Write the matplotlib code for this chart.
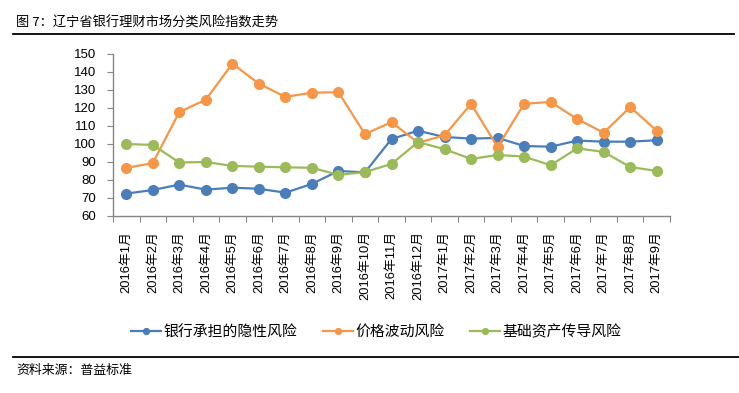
import numpy as np
import matplotlib
matplotlib.use('Agg')
import matplotlib.pyplot as plt
from matplotlib.lines import Line2D

plt.rcParams['font.family'] = ['Liberation Sans', 'Noto Sans CJK SC', 'DejaVu Sans']

months = ['2016年1月', '2016年2月', '2016年3月', '2016年4月', '2016年5月', '2016年6月',
          '2016年7月', '2016年8月', '2016年9月', '2016年10月', '2016年11月', '2016年12月',
          '2017年1月', '2017年2月', '2017年3月', '2017年4月', '2017年5月', '2017年6月',
          '2017年7月', '2017年8月', '2017年9月']

hidden_risk = [72.3, 74.3, 77.3, 74.5, 75.6, 75.0, 72.8, 77.7, 84.9, 84.1, 102.7, 107.3,
               103.8, 102.9, 103.3, 98.8, 98.4, 101.8, 101.2, 101.2, 102.0]
price_risk = [86.6, 89.3, 117.7, 124.6, 144.6, 133.5, 126.1, 128.5, 128.7, 105.4, 112.1, 100.6,
              104.7, 122.3, 98.2, 122.3, 123.3, 113.8, 106.2, 120.5, 107.3]
base_risk = [99.9, 99.4, 89.6, 89.9, 87.7, 87.3, 86.9, 86.7, 82.7, 84.3, 88.8, 101.0,
             97.0, 91.6, 93.8, 92.9, 88.1, 97.5, 95.5, 87.1, 84.9]

series_names = ['银行承担的隐性风险', '价格波动风险', '基础资产传导风险']
colors = ['#4A7EBB', '#F79646', '#9BBB59']

W, H = 739, 393
fig = plt.figure(figsize=(W / 100, H / 100), dpi=100)
ax = fig.add_axes([113 / W, 1 - 215.7 / H, 557 / W, 161.7 / H])

x = np.arange(len(months))
for vals, c, name in zip([hidden_risk, price_risk, base_risk], colors, series_names):
    ax.plot(x, vals, color=c, lw=1.6, marker='o', markersize=7, label=name)

ax.set_xlim(-0.5, len(months) - 0.5)
ax.set_ylim(60, 150)
ax.set_yticks(np.arange(60, 151, 10))
ax.set_xticks(np.arange(-0.5, len(months), 1))
ax.set_xticklabels([])
ax.set_xticks(x, minor=True)
ax.set_xticklabels(months, minor=True, rotation=90, fontsize=9.3)
ax.tick_params(axis='x', which='minor', length=0, pad=11)
ax.tick_params(axis='x', which='major', length=4, color='#868686', direction='out')
ax.tick_params(axis='y', length=4, color='#868686', labelsize=9.5, pad=8)

for s in ['top', 'right']:
    ax.spines[s].set_visible(False)
for s in ['left', 'bottom']:
    ax.spines[s].set_color('#868686')
    ax.spines[s].set_linewidth(1)

cjk = ['Noto Sans CJK SC', 'DejaVu Sans']
fig.text(16 / W, 1 - 23 / H, '图 7：辽宁省银行理财市场分类风险指数走势', fontsize=9.5,
         family=cjk, va='center', ha='left')
fig.add_artist(Line2D([13 / W, 734 / W], [1 - 34 / H, 1 - 34 / H], color='black', lw=1.3))
fig.add_artist(Line2D([13 / W, 1.0], [1 - 357 / H, 1 - 357 / H], color='black', lw=1.3))
fig.text(16 / W, 1 - 370 / H, '资料来源：普益标准', fontsize=9.3, family=cjk,
         va='center', ha='left')

leg = fig.legend(loc='center', bbox_to_anchor=(376.5 / W, 1 - 332 / H), ncol=3,
                 frameon=False, handlelength=2.0, handletextpad=0.2, columnspacing=1.7,
                 borderpad=0, markerscale=0.6, prop={'family': cjk, 'size': 10.7})

fig.savefig('out.png', dpi=100)
